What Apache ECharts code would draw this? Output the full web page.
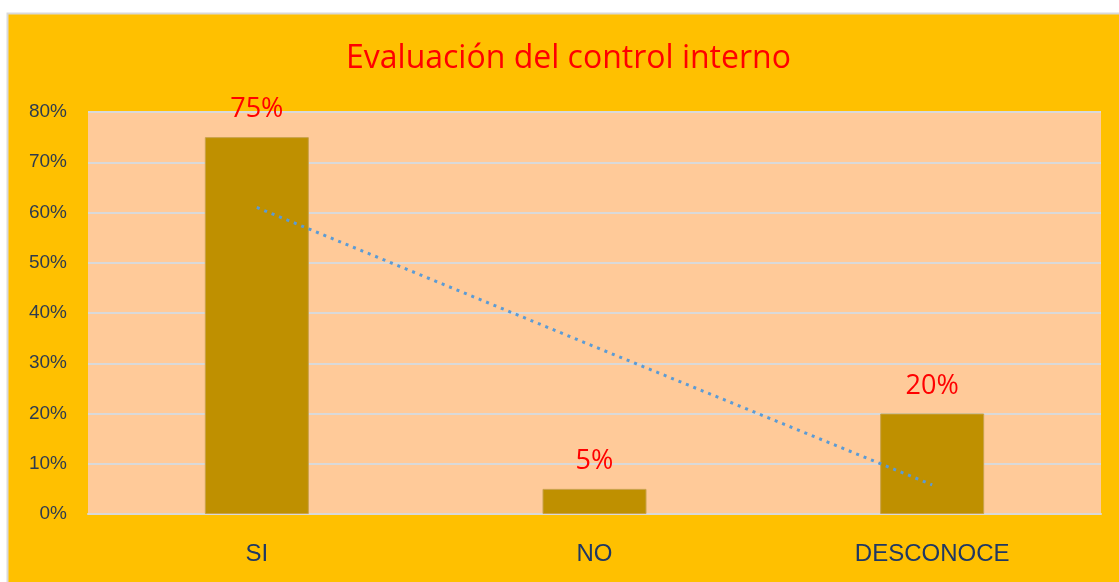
<!DOCTYPE html>
<html>
<head>
<meta charset="utf-8">
<script src="https://cdn.jsdelivr.net/npm/echarts@6/dist/echarts.min.js"></script>
<style>
  html, body { margin: 0; padding: 0; background: #fff; }
  #chart { width: 1119px; height: 582px; }
</style>
</head>
<body>
<div id="chart"></div>
<script>
// data
const categories = ['SI', 'NO', 'DESCONOCE'];
const percentValues = [75, 5, 20];
// dotted linear trendline, as it appears on the picture
const trendValues = [61, 33.3, 5.8];
const yTicks = [0, 10, 20, 30, 40, 50, 60, 70, 80];

const chart = echarts.init(document.getElementById('chart'), null, { renderer: 'canvas' });

const option = {
  backgroundColor: 'transparent',
  animation: false,
  graphic: [{
    type: 'rect',
    z: -10,
    silent: true,
    shape: { x: 7.5, y: 13.5, width: 1130, height: 600 },
    style: { fill: '#FFC000', stroke: '#D9D9D9', lineWidth: 2 }
  }],
  title: {
    text: 'Evaluación del control interno',
    left: 341,
    top: 38,
    textStyle: {
      color: '#FF0000',
      fontFamily: 'Open Sans',
      fontSize: 32,
      fontWeight: 'normal'
    }
  },
  grid: {
    left: 88,
    right: 18,
    top: 112,
    bottom: 68,
    show: true,
    backgroundColor: '#FFCA99',
    borderWidth: 0
  },
  xAxis: {
    type: 'category',
    data: categories,
    axisTick: { show: false },
    axisLine: { show: true, lineStyle: { color: '#D9D9D9', width: 2 } },
    axisLabel: {
      color: '#1F3864',
      fontFamily: 'Liberation Sans',
      fontSize: 24,
      margin: 28
    }
  },
  yAxis: {
    type: 'value',
    min: yTicks[0],
    max: yTicks[yTicks.length - 1],
    interval: 10,
    axisLine: { show: false },
    axisTick: { show: false },
    splitLine: { lineStyle: { color: '#D9D9D9', width: 2 } },
    axisLabel: {
      formatter: '{value}%',
      color: '#2E3B4E',
      fontFamily: 'Liberation Sans',
      fontSize: 19,
      margin: 21
    }
  },
  series: [
    {
      name: 'Evaluación',
      type: 'bar',
      data: percentValues,
      barWidth: 104,
      itemStyle: { color: '#BF9000', borderColor: '#C9A24A', borderWidth: 1 },
      label: {
        show: true,
        position: 'top',
        distance: 14,
        formatter: '{c}%',
        color: '#FF0000',
        fontFamily: 'Open Sans',
        fontSize: 27
      }
    },
    {
      name: 'Tendencia',
      type: 'line',
      data: trendValues,
      symbol: 'none',
      z: 5,
      lineStyle: { color: '#5B9BD5', width: 3, type: [3, 5] }
    }
  ]
};

chart.setOption(option);
</script>
</body>
</html>
